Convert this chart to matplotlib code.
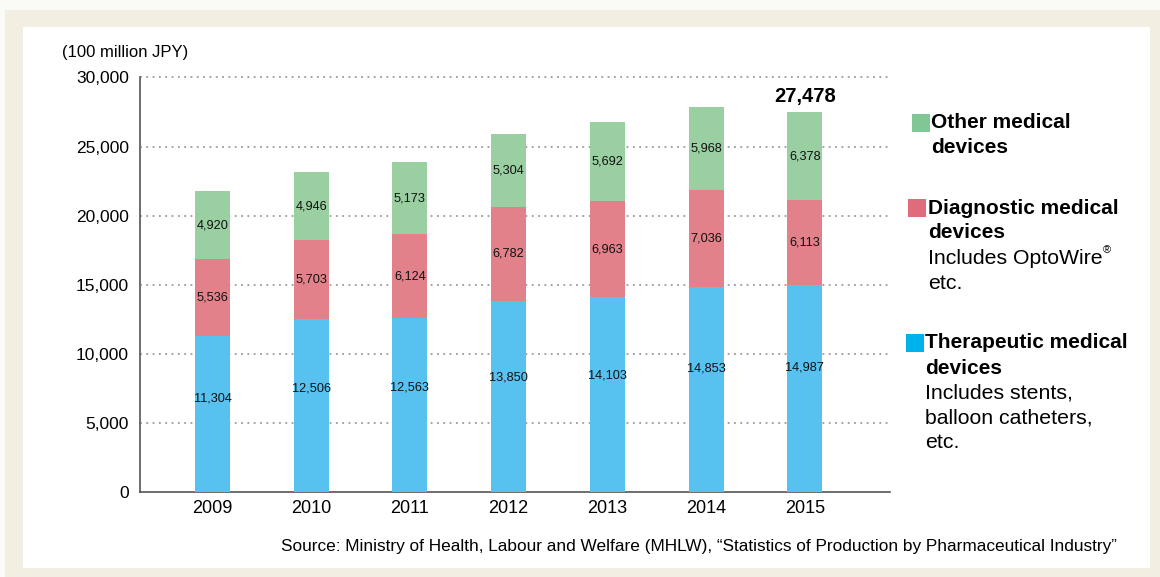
import matplotlib
matplotlib.use("Agg")
import matplotlib.pyplot as plt
from matplotlib.patches import Rectangle
import numpy as np

years = ["2009", "2010", "2011", "2012", "2013", "2014", "2015"]
therapeutic = [11304, 12506, 12563, 13850, 14103, 14853, 14987]
diagnostic = [5536, 5703, 6124, 6782, 6963, 7036, 6113]
other = [4920, 4946, 5173, 5304, 5692, 5968, 6378]
yticks = [0, 5000, 10000, 15000, 20000, 25000, 30000]

c_ther = "#57C2EF"
c_diag = "#E3818B"
c_other = "#99CFA1"
leg_other = "#80C796"
leg_diag = "#E06B7B"
leg_ther = "#00B2EA"

FONT = ["Liberation Sans", "DejaVu Sans"]
plt.rcParams["font.family"] = FONT

W, H = 1160, 577
fig = plt.figure(figsize=(W / 100, H / 100), dpi=100)
fig.patch.set_facecolor("#FAFAF7")

def px(x, y):
    return x / W, 1 - y / H

# beige frame and white panel
fig.patches.append(Rectangle((5 / W, 0), 1, 1 - 10 / H, transform=fig.transFigure,
                             facecolor="#F2EFE2", edgecolor="none", zorder=-3))
fig.patches.append(Rectangle((23 / W, 1 - 568 / H), (1150 - 23) / W, (568 - 27) / H,
                             transform=fig.transFigure, facecolor="white",
                             edgecolor="none", zorder=-2))

x0, x1 = 140, 890
y0, y30 = 492, 77.5
ax = fig.add_axes([x0 / W, 1 - y0 / H, (x1 - x0) / W, (y0 - y30) / H])
ax.set_facecolor("none")
ax.set_zorder(1)

x = np.arange(len(years))
ther = np.array(therapeutic)
diag = np.array(diagnostic)
oth = np.array(other)
width = 0.355
ax.bar(x, ther, width, color=c_ther, zorder=3)
ax.bar(x, diag, width, bottom=ther, color=c_diag, zorder=3)
ax.bar(x, oth, width, bottom=ther + diag, color=c_other, zorder=3)

VS = 9.2
for i in range(len(years)):
    ax.text(x[i], ther[i] * 0.6, f"{ther[i]:,}", ha="center", va="center",
            fontsize=VS, color="#111111", zorder=4)
    ax.text(x[i], ther[i] + diag[i] / 2, f"{diag[i]:,}", ha="center", va="center",
            fontsize=VS, color="#111111", zorder=4)
    ax.text(x[i], ther[i] + diag[i] + oth[i] / 2, f"{oth[i]:,}", ha="center", va="center",
            fontsize=VS, color="#111111", zorder=4)

total_last = ther[-1] + diag[-1] + oth[-1]
ax.text(x[-1], total_last + 450, f"{total_last:,}", ha="center", va="bottom",
        fontsize=14.5, fontweight="bold", color="black")

ax.set_xlim(-0.735, 6.864)
ax.set_ylim(0, 30000)
ax.set_yticks(yticks)
ax.set_yticklabels([f"{v:,}" for v in yticks], fontsize=12.5)
ax.set_xticks(x)
ax.set_xticklabels(years, fontsize=13)
ax.tick_params(length=0, pad=8)
ax.tick_params(axis="x", pad=6)
for v in yticks[1:]:
    ax.axhline(v, color="#9a9a9a", linestyle=(0, (1, 2.5)), linewidth=1.3,
               zorder=1, clip_on=False)
for s in ["top", "right"]:
    ax.spines[s].set_visible(False)
ax.spines["left"].set_color("#555555")
ax.spines["bottom"].set_color("#555555")
ax.spines["left"].set_linewidth(1.2)
ax.spines["bottom"].set_linewidth(1.2)

fig.text(*px(62, 52), "(100 million JPY)", fontsize=12, ha="left", va="center")

# legend
def square(xl, yt, c):
    fig.patches.append(Rectangle(px(xl, yt + 18), 18 / W, 18 / H,
                                 transform=fig.transFigure, facecolor=c,
                                 edgecolor="none", zorder=2))

LS = 15
LR = 15.3
square(912, 114, leg_other)
fig.text(*px(931, 123), "Other medical", fontsize=LS, fontweight="bold", va="center")
fig.text(*px(931, 147), "devices", fontsize=LS, fontweight="bold", va="center")

square(908, 199, leg_diag)
fig.text(*px(928, 208), "Diagnostic medical", fontsize=LS, fontweight="bold", va="center")
fig.text(*px(928, 233), "devices", fontsize=LS, fontweight="bold", va="center")
fig.text(*px(928, 258), "Includes OptoWire", fontsize=LR, va="center")
fig.text(*px(1103, 250), "\u00ae", fontsize=8, va="center")
fig.text(*px(928, 283), "etc.", fontsize=LR, va="center")

square(906, 334, leg_ther)
fig.text(*px(925, 343), "Therapeutic medical", fontsize=LS, fontweight="bold", va="center")
fig.text(*px(925, 368), "devices", fontsize=LS, fontweight="bold", va="center")
fig.text(*px(925, 393), "Includes stents,", fontsize=LR, va="center")
fig.text(*px(925, 418), "balloon catheters,", fontsize=LR, va="center")
fig.text(*px(925, 443), "etc.", fontsize=LR, va="center")

fig.text(*px(1117, 547),
         "Source: Ministry of Health, Labour and Welfare (MHLW), \u201cStatistics of Production by Pharmaceutical Industry\u201d",
         fontsize=12.4, ha="right", va="center")

fig.savefig("out.png", dpi=100, facecolor=fig.get_facecolor())
